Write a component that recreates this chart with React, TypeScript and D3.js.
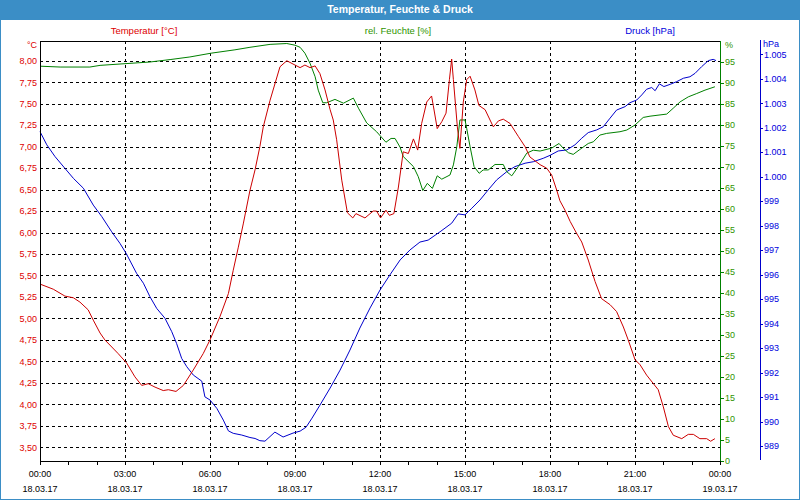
import React from "react";
import * as d3 from "d3";

// [hour of day, °C]
const temperature: [number, number][] = [
  [0, 5.4], [0.47, 5.34], [0.88, 5.26], [1.18, 5.24], [1.41, 5.19], [1.7, 5.1], [1.88, 4.98],
  [2.12, 4.83], [2.29, 4.75], [2.76, 4.59], [3.06, 4.48], [3.35, 4.32], [3.59, 4.22], [3.82, 4.24],
  [4.06, 4.2], [4.35, 4.16], [4.53, 4.17], [4.8, 4.15], [5.06, 4.22], [5.41, 4.4], [5.76, 4.59],
  [6.0, 4.75], [6.35, 5.02], [6.65, 5.29], [6.82, 5.56], [7.0, 5.83], [7.18, 6.11], [7.41, 6.49],
  [7.59, 6.73], [7.76, 7.0], [7.88, 7.23], [8.12, 7.54], [8.47, 7.93], [8.71, 8.0], [9.0, 7.95],
  [9.18, 7.92], [9.35, 7.95], [9.53, 7.92], [9.71, 7.94], [9.88, 7.85], [10.06, 7.66], [10.24, 7.43],
  [10.35, 7.31], [10.47, 7.08], [10.65, 6.61], [10.85, 6.23], [11.04, 6.17], [11.15, 6.22],
  [11.47, 6.17], [11.76, 6.25], [11.88, 6.25], [12.02, 6.17], [12.21, 6.26], [12.33, 6.2],
  [12.49, 6.22], [12.65, 6.53], [12.82, 6.94], [13.0, 6.92], [13.18, 7.09], [13.33, 6.96],
  [13.47, 7.27], [13.65, 7.52], [13.82, 7.59], [13.88, 7.48], [14.02, 7.21], [14.18, 7.29],
  [14.33, 7.39], [14.45, 7.78], [14.53, 8.02], [14.59, 7.78], [14.73, 7.23], [14.82, 6.98],
  [14.94, 7.52], [15.06, 7.78], [15.18, 7.82], [15.35, 7.66], [15.49, 7.48], [15.71, 7.43],
  [16.0, 7.23], [16.18, 7.3], [16.35, 7.32], [16.59, 7.27], [16.88, 7.12], [17.12, 7.0],
  [17.29, 6.88], [17.65, 6.79], [17.88, 6.75], [18.06, 6.67], [18.24, 6.49], [18.35, 6.37],
  [18.53, 6.26], [18.71, 6.13], [18.94, 5.99], [19.12, 5.89], [19.35, 5.68], [19.59, 5.43],
  [19.82, 5.23], [20.12, 5.16], [20.35, 5.08], [20.59, 4.9], [20.76, 4.75], [21.0, 4.52],
  [21.18, 4.46], [21.41, 4.34], [21.65, 4.24], [21.82, 4.17], [22.0, 3.97], [22.18, 3.74],
  [22.35, 3.64], [22.65, 3.6], [22.88, 3.65], [23.06, 3.65], [23.29, 3.6], [23.53, 3.6],
  [23.67, 3.57], [23.82, 3.6],
];

// [hour of day, % rel. humidity]
const humidity: [number, number][] = [
  [0, 94.0], [0.71, 93.8], [1.76, 93.8], [2.12, 94.2], [3.0, 94.6], [3.88, 95.0], [4.62, 95.6],
  [5.29, 96.2], [6.04, 97.1], [6.88, 97.9], [7.41, 98.5], [8.12, 99.2], [8.71, 99.4], [9.0, 99.0],
  [9.18, 98.5], [9.35, 97.1], [9.53, 94.7], [9.71, 91.5], [9.82, 88.3], [9.98, 85.3], [10.12, 85.3],
  [10.41, 86.1], [10.71, 85.2], [11.06, 86.4], [11.24, 84.0], [11.53, 80.5], [11.88, 78.4],
  [12.21, 75.9], [12.39, 76.8], [12.53, 76.8], [12.71, 74.7], [12.82, 72.5], [13.18, 70.1],
  [13.35, 67.7], [13.51, 64.4], [13.67, 66.1], [13.85, 64.9], [14.02, 67.9], [14.18, 67.1],
  [14.47, 68.1], [14.59, 70.5], [14.71, 74.8], [14.82, 81.2], [15.0, 81.2], [15.06, 79.2],
  [15.18, 74.8], [15.32, 70.1], [15.5, 68.5], [15.64, 69.3], [15.82, 69.3], [16.06, 70.6],
  [16.35, 70.6], [16.47, 68.9], [16.65, 67.9], [16.88, 70.1], [17.18, 73.3], [17.41, 74.0],
  [17.65, 73.8], [18.06, 74.5], [18.32, 75.6], [18.46, 74.5], [18.65, 73.4], [18.82, 73.0],
  [19.06, 74.2], [19.35, 75.6], [19.53, 76.0], [19.76, 77.6], [20.0, 78.0], [20.47, 78.4],
  [20.71, 78.8], [21.0, 80.0], [21.29, 81.8], [21.53, 82.1], [22.12, 82.6], [22.35, 84.0],
  [22.59, 85.5], [22.88, 86.7], [23.18, 87.5], [23.47, 88.3], [23.82, 89.1],
];

// [hour of day, hPa]
const pressure: [number, number][] = [
  [0, 1001.84], [0.24, 1001.3], [0.53, 1000.82], [0.88, 1000.34], [1.18, 999.93], [1.53, 999.53],
  [1.88, 998.84], [2.18, 998.37], [2.53, 997.75], [2.82, 997.28], [3.04, 996.87], [3.41, 996.05],
  [3.65, 995.65], [3.88, 995.1], [4.12, 994.62], [4.41, 994.22], [4.65, 993.67], [4.82, 993.19],
  [5.0, 992.58], [5.18, 992.24], [5.41, 991.9], [5.71, 991.65], [5.82, 991.01], [6.0, 990.88],
  [6.24, 990.54], [6.47, 990.06], [6.65, 989.62], [6.82, 989.52], [7.12, 989.45], [7.41, 989.35],
  [7.59, 989.31], [7.76, 989.22], [7.94, 989.2], [8.29, 989.57], [8.58, 989.37], [8.93, 989.53],
  [9.18, 989.61], [9.39, 989.77], [9.6, 990.14], [9.88, 990.67], [10.24, 991.37], [10.59, 992.1],
  [10.94, 992.92], [11.29, 993.82], [11.65, 994.64], [12.0, 995.37], [12.35, 995.99],
  [12.71, 996.6], [13.06, 997.01], [13.41, 997.33], [13.7, 997.41], [14.12, 997.75],
  [14.53, 998.1], [14.76, 998.48], [15.0, 998.44], [15.24, 998.71], [15.53, 999.05],
  [15.82, 999.46], [16.12, 999.87], [16.47, 1000.2], [16.76, 1000.41], [17.12, 1000.55],
  [17.41, 1000.61], [17.76, 1000.75], [18.0, 1000.87], [18.29, 1001.05], [18.59, 1001.09],
  [18.88, 1001.3], [19.12, 1001.57], [19.35, 1001.8], [19.65, 1001.91], [19.88, 1002.04],
  [20.12, 1002.39], [20.35, 1002.72], [20.65, 1002.86], [20.82, 1003.02], [21.06, 1003.13],
  [21.24, 1003.34], [21.41, 1003.57], [21.59, 1003.64], [21.71, 1003.51], [21.86, 1003.79],
  [22.02, 1003.68], [22.24, 1003.77], [22.47, 1003.88], [22.71, 1004.02], [22.94, 1004.08],
  [23.12, 1004.22], [23.35, 1004.49], [23.59, 1004.74], [23.76, 1004.79], [23.86, 1004.74],
];

const timeTicks = [0, 3, 6, 9, 12, 15, 18, 21, 24];
const timeLabels = ["00:00", "03:00", "06:00", "09:00", "12:00", "15:00", "18:00", "21:00", "00:00"];
const dateLabels = ["18.03.17", "18.03.17", "18.03.17", "18.03.17", "18.03.17", "18.03.17", "18.03.17", "18.03.17", "19.03.17"];
const minorTicks = [1, 2, 4, 5, 7, 8, 10, 11, 13, 14, 16, 17, 19, 20, 22, 23];
const tempTicks = [3.5, 3.75, 4, 4.25, 4.5, 4.75, 5, 5.25, 5.5, 5.75, 6, 6.25, 6.5, 6.75, 7, 7.25, 7.5, 7.75, 8];
const humTicks = [0, 5, 10, 15, 20, 25, 30, 35, 40, 45, 50, 55, 60, 65, 70, 75, 80, 85, 90, 95];
const presTicks = [989, 990, 991, 992, 993, 994, 995, 996, 997, 998, 999, 1000, 1001, 1002, 1003, 1004, 1005];

const W = 800, H = 500;
const L = 40, R = 720, T = 41, B = 461;
const PX = 760;

const RED = "#cc0000", RED_T = "#dd0000";
const GREEN = "#008000", GREEN_T = "#2f9400";
const BLUE = "#0000cc", BLUE_T = "#0000dd";
const BAR = "#3b8ec6";
const FONT = "'Liberation Sans', Arial, sans-serif";

const crisp = (v: number) => Math.round(v) + 0.5;
const fmtTemp = (v: number) => d3.format(".2f")(v).replace(".", ",");
const fmtPres = (v: number) => (v >= 1000 ? "1." + String(v - 1000).padStart(3, "0") : String(v));

export default function App() {
  const x = d3.scaleLinear().domain([0, 24]).range([L, R]);
  const yT = d3.scaleLinear().domain([3.34, 8.23]).range([B, T]);
  const yH = d3.scaleLinear().domain([0, 100]).range([B, T]);
  const yP = d3.scaleLinear().domain([988.39, 1005.54]).range([B, T]);

  const mk = (ys: d3.ScaleLinear<number, number>) =>
    d3.line<[number, number]>().x((d) => x(d[0])).y((d) => ys(d[1]));

  return (
    <svg
      width={W}
      height={H}
      style={{ position: "absolute", left: 0, top: 0, fontFamily: FONT }}
    >
      <rect x={0} y={0} width={W} height={H} fill="#ffffff" />
      <rect x={0} y={0} width={W} height={20} fill={BAR} />
      <rect x={0.5} y={0.5} width={W - 1} height={H - 1} fill="none" stroke={BAR} strokeWidth={1} />
      <text x={400} y={13} textAnchor="middle" fill="#ffffff" fontWeight="bold" fontSize={10.5}>
        Temperatur, Feuchte &amp; Druck
      </text>

      {/* legend headers */}
      <text x={144} y={34} textAnchor="middle" fill={RED_T} fontSize={9.5}>Temperatur [°C]</text>
      <text x={398} y={34} textAnchor="middle" fill={GREEN_T} fontSize={9.5}>rel. Feuchte [%]</text>
      <text x={650} y={34} textAnchor="middle" fill={BLUE_T} fontSize={9.5}>Druck [hPa]</text>

      {/* grid */}
      <g stroke="#000" strokeDasharray="3,3" shapeRendering="crispEdges" strokeWidth={1}>
        {tempTicks.map((t) => (
          <line key={"h" + t} x1={L} x2={R} y1={crisp(yT(t))} y2={crisp(yT(t))} />
        ))}
        {timeTicks.slice(1, -1).map((h) => (
          <line key={"v" + h} x1={crisp(x(h))} x2={crisp(x(h))} y1={T} y2={B} />
        ))}
      </g>

      {/* data lines */}
      <path d={mk(yP)(pressure) || ""} fill="none" stroke={BLUE} strokeWidth={1} />
      <path d={mk(yH)(humidity) || ""} fill="none" stroke={GREEN} strokeWidth={1} />
      <path d={mk(yT)(temperature) || ""} fill="none" stroke={RED} strokeWidth={1} />

      {/* frame */}
      <g shapeRendering="crispEdges" strokeWidth={1}>
        <line x1={L} x2={R} y1={crisp(T)} y2={crisp(T)} stroke="#000" />
        <line x1={crisp(L)} x2={crisp(L)} y1={T} y2={B + 1} stroke="#000" />
        <line x1={L} x2={R} y1={crisp(B)} y2={crisp(B)} stroke="#000" />
        <line x1={crisp(R)} x2={crisp(R)} y1={T} y2={B + 1} stroke={GREEN} />
        <line x1={crisp(PX)} x2={crisp(PX)} y1={40} y2={460} stroke={BLUE} />
      </g>

      {/* left temperature axis */}
      <text x={37} y={48} textAnchor="end" fill={RED_T} fontSize={9}>°C</text>
      {tempTicks.map((t) => (
        <text key={"tl" + t} x={37} y={yT(t) + 3.3} textAnchor="end" fill={RED_T} fontSize={9}>
          {fmtTemp(t)}
        </text>
      ))}

      {/* humidity axis */}
      <text x={725} y={48} fill={GREEN_T} fontSize={9}>%</text>
      {humTicks.map((h) => (
        <g key={"hl" + h}>
          <line x1={R} x2={R + 4} y1={crisp(yH(h))} y2={crisp(yH(h))} stroke={GREEN} shapeRendering="crispEdges" />
          <text x={725} y={yH(h) + 3.3} fill={GREEN_T} fontSize={9}>{h}</text>
        </g>
      ))}

      {/* pressure axis */}
      <text x={763} y={47} fill={BLUE_T} fontSize={9}>hPa</text>
      {presTicks.map((p) => (
        <g key={"pl" + p}>
          <line x1={PX} x2={PX + 3} y1={crisp(yP(p))} y2={crisp(yP(p))} stroke={BLUE} shapeRendering="crispEdges" />
          <text x={764} y={yP(p) + 3.3} fill={BLUE_T} fontSize={9}>{fmtPres(p)}</text>
        </g>
      ))}

      {/* time axis */}
      <g shapeRendering="crispEdges" stroke="#000">
        {timeTicks.concat(minorTicks).map((h) => (
          <line key={"tt" + h} x1={crisp(x(h))} x2={crisp(x(h))} y1={B} y2={B + 4} />
        ))}
      </g>
      {timeTicks.map((h, i) => (
        <g key={"tx" + i}>
          <text x={x(h)} y={477} textAnchor="middle" fill="#000" fontSize={9}>{timeLabels[i]}</text>
          <text x={x(h)} y={492} textAnchor="middle" fill="#000" fontSize={9}>{dateLabels[i]}</text>
        </g>
      ))}
    </svg>
  );
}
